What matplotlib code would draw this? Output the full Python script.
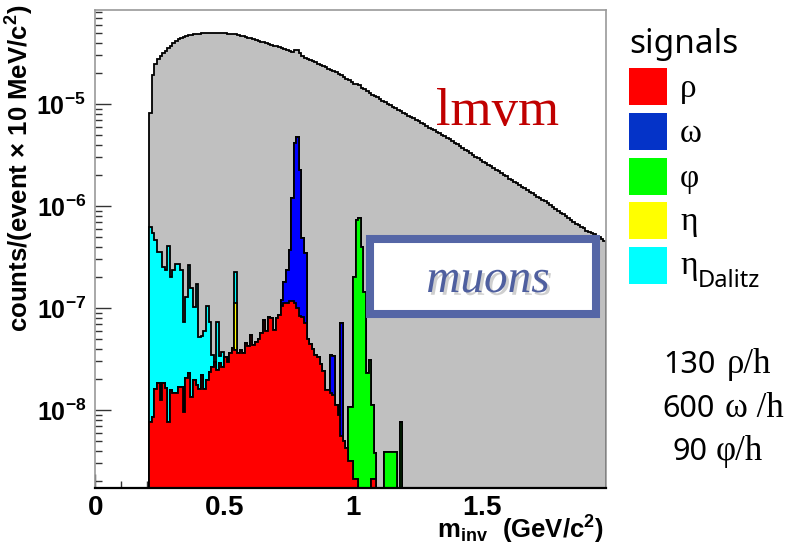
import numpy as np
import matplotlib
matplotlib.use("Agg")
import matplotlib.pyplot as plt
from matplotlib.patches import Rectangle
from matplotlib.ticker import FixedLocator, FixedFormatter, NullFormatter, LogLocator, MultipleLocator
import matplotlib.patheffects as pe

plt.rcParams['font.family'] = ['Liberation Sans', 'DejaVu Sans']
plt.rcParams['font.weight'] = 'bold'

# ---------------- data ----------------
bin_width = 0.01          # GeV/c^2
m_start = 0.21            # first bin lower edge

# total lmvm spectrum (units 1e-6), bins 0.21 ... 1.97
lmvm_total = [
    8.13, 19.1, 24.5, 27.5, 29.5, 31.6, 33.1, 35.5, 37.2, 39.8,
    41.7, 43.2, 44.4, 45.4, 46.2, 47.1, 47.9, 48.3, 48.6, 49.0,
    49.3, 49.5, 49.8, 50.0, 50.1, 50.1, 50.1, 49.9, 49.5, 49.3,
    49.1, 48.8, 48.4, 48.1, 47.5, 46.9, 46.2, 45.6, 44.8, 44.1,
    43.3, 42.5, 41.7, 40.9, 40.2, 39.5, 38.9, 38.2, 37.5, 36.9,
    36.3, 35.1, 34.7, 33.9, 33.1, 32.7, 33.9, 33.9, 31.6, 29.5,
    28.5, 27.5, 26.9, 26.3, 25.7, 24.8, 24.3, 23.4, 22.9, 22.3,
    21.6, 21.0, 20.4, 19.9, 19.3, 18.5, 17.8, 17.1, 16.4, 15.8,
    15.8, 15.5, 14.5, 13.9, 13.4, 12.9, 12.4, 12.0, 11.6, 11.2,
    10.8, 10.5, 10.1, 9.77, 9.44, 9.12, 8.81, 8.51, 8.22, 7.94,
    7.67, 7.41, 7.24, 7.00, 6.76, 6.53, 6.31, 6.10, 5.89, 5.75,
    5.56, 5.37, 5.19, 5.01, 4.84, 4.68, 4.52, 4.37, 4.17, 4.03,
    3.89, 3.72, 3.57, 3.44, 3.31, 3.16, 3.05, 2.94, 2.82, 2.72,
    2.63, 2.54, 2.45, 2.34, 2.26, 2.19, 2.09, 2.02, 1.95, 1.86,
    1.80, 1.74, 1.68, 1.62, 1.55, 1.50, 1.45, 1.38, 1.33, 1.29,
    1.23, 1.19, 1.15, 1.11, 1.07, 1.02, 0.977, 0.944, 0.902, 0.861,
    0.832, 0.794, 0.759, 0.733, 0.700, 0.668, 0.646, 0.617, 0.603, 0.575,
    0.562, 0.543, 0.531, 0.513, 0.495, 0.479, 0.457,
]

# rho signal (units 1e-8), bins 0.21 ... 1.19
rho = [
    0.76, 0.85, 1.60, 1.86, 1.26, 1.86, 1.66, 0.76, 1.58, 1.48,
    1.48, 1.70, 1.70, 0.95, 2.04, 2.29, 1.35, 1.95, 1.74, 1.62,
    2.19, 1.62, 1.95, 2.34, 2.63, 2.95, 2.45, 2.88, 2.63, 3.31,
    2.95, 3.63, 4.07, 3.89, 3.63, 3.89, 3.63, 4.57, 4.27, 5.50,
    4.37, 4.68, 5.01, 5.75, 7.59, 5.89, 8.13, 7.94, 6.03, 7.94,
    8.51, 10.5, 11.2, 11.2, 11.7, 11.7, 11.2, 10.0, 8.32, 8.13,
    7.08, 5.01, 4.47, 3.98, 3.47, 3.31, 2.82, 2.40, 1.58, 1.58,
    1.48, 1.41, 1.12, 0.89, 0.56, 0.50, 0.42, 0.32, 0.32, 0.21,
    0.21, 0, 0, 0, 0, 0, 0.21, 0.21, 0, 0,
    0, 0, 0, 0, 0, 0, 0, 0, 0,
]

# eta Dalitz signal (units 1e-8), bins from 0.21 onward (rest zero)
eta_dalitz = [
    61, 53, 45, 33.6, 34.2, 23.2, 21.7, 40, 18.4, 21.9,
    25.4, 25.2, 21.7, 6.3, 10.9, 24, 14.5, 8.3, 15.3, 3.6,
    3.1, 4.4, 8.5, 4.9, 0.8, 0, 4.8, 0.5, 1.1, 0,
    0, 0, 0, 11.2,
]

# sparse signals: bin lower edge (GeV/c^2) and value (units 1e-8)
omega_m = [0.72, 0.73, 0.74, 0.75, 0.76, 0.77, 0.78, 0.79, 0.80, 0.81, 0.91, 0.92, 0.95]
omega_val = [1.5, 6.6, 12.2, 25.5, 108, 406, 469, 216, 41, 27.6, 2.0, 2.0, 6.5]

phi_m = [0.98, 0.99, 1.00, 1.01, 1.02, 1.03, 1.04, 1.05, 1.06, 1.07, 1.08,
         1.12, 1.13, 1.14, 1.15, 1.16, 1.18]
phi_val = [0.75, 0.75, 19.8, 72, 76, 40, 14.5, 2.3, 3.1, 0.91, 0.17,
           0.39, 0.39, 0.39, 0.39, 0.39, 0.76]

eta_m = [0.54]
eta_val = [7.3]

legend_labels = ['ρ', 'ω', 'φ', 'η', 'η']
legend_colors = ['#ff0000', '#0433c8', '#00ff00', '#ffff00', '#00ffff']
hist_colors = ['#ff0000', '#0000ff', '#00ff00', '#ffff00', '#00ffff']
rates = [('130', 'ρ/h'), ('600', 'ω /h'), ('90', 'φ/h')]

x_ticks = [0, 0.5, 1, 1.5]
x_ticklabels = [r'$\mathdefault{0}$', r'$\mathdefault{0.5}$',
                r'$\mathdefault{1}$', r'$\mathdefault{1.5}$']
y_ticks = [1e-8, 1e-7, 1e-6, 1e-5]
y_ticklabels = [r'$\mathdefault{10^{-8}}$', r'$\mathdefault{10^{-7}}$',
                r'$\mathdefault{10^{-6}}$', r'$\mathdefault{10^{-5}}$']

# ---------------- build histograms ----------------
n_sig = len(rho)
edges_sig = m_start + bin_width * np.arange(n_sig + 1)
edges_tot = m_start + bin_width * np.arange(len(lmvm_total) + 1)


def full(ms, vals):
    arr = np.zeros(n_sig)
    for m, v in zip(ms, vals):
        arr[int(round((m - m_start) / bin_width))] = v
    return arr


etad_full = np.zeros(n_sig)
etad_full[:len(eta_dalitz)] = eta_dalitz
components = np.array([
    np.array(rho, dtype=float),
    full(omega_m, omega_val),
    full(phi_m, phi_val),
    full(eta_m, eta_val),
    etad_full,
]) * 1e-8
cum = np.cumsum(components, axis=0)

floor = 1e-13

# ---------------- figure ----------------
W, H = 800, 545
fig = plt.figure(figsize=(W / 100, H / 100), dpi=100)
ax = fig.add_axes([95 / W, (H - 488) / H, 511 / W, 478 / H])


def fx(x):
    return x / W


def fy(y):
    return 1 - y / H


ax.set_yscale('log')
ax.set_xlim(0, 1.98)
ax.set_ylim(1.72e-9, 8.36e-5)

tot = np.array(lmvm_total) * 1e-6
ax.stairs(tot, edges_tot, baseline=floor, fill=True, color='#c0c0c0', lw=0)
ax.stairs(tot, edges_tot, baseline=floor, fill=False, color='black', lw=1.3)

for k in range(4, -1, -1):
    vals = np.where(cum[k] > 0, cum[k], floor)
    ax.stairs(vals, edges_sig, baseline=floor, fill=True, color=hist_colors[k], lw=0)
    ax.stairs(vals, edges_sig, baseline=floor, fill=False, color='black', lw=1.3)

ax.set_axisbelow(True)

ax.yaxis.set_major_locator(FixedLocator(y_ticks))
ax.yaxis.set_major_formatter(FixedFormatter(y_ticklabels))
ax.yaxis.set_minor_locator(LogLocator(base=10, subs=np.arange(2, 10)))
ax.yaxis.set_minor_formatter(NullFormatter())
ax.xaxis.set_major_locator(FixedLocator(x_ticks))
ax.xaxis.set_major_formatter(FixedFormatter(x_ticklabels))
ax.xaxis.set_minor_locator(MultipleLocator(0.1))

ax.tick_params(axis='y', which='major', direction='in', length=11.5, width=1.0,
               pad=6.5, labelsize=18, color='#333333', right=False)
ax.tick_params(axis='y', which='minor', direction='in', length=5, width=1.0,
               color='#333333', right=False)
ax.tick_params(axis='x', which='major', direction='in', length=10, width=1.0,
               pad=5, labelsize=20, color='#333333', top=False)
ax.tick_params(axis='x', which='minor', direction='in', length=5, width=1.0,
               color='#333333', top=False)
for lab in ax.get_xticklabels() + ax.get_yticklabels():
    lab.set_fontweight('bold')

for side in ['left', 'top', 'right']:
    ax.spines[side].set_color('#9a9a9a')
    ax.spines[side].set_linewidth(1.2)
ax.spines['bottom'].set_color('black')
ax.spines['bottom'].set_linewidth(1.6)

# axis titles
fig.text(fx(19), fy(5), 'counts/(event × 10 MeV/c$^{\\mathdefault{2}}$)', rotation=90,
         ha='center', va='top', fontsize=18.5, fontweight='bold')
fig.text(fx(437), fy(538), r'$\mathdefault{m_{inv}}$',
         ha='left', va='baseline', fontsize=18.5, fontweight='bold')
fig.text(fx(604), fy(538), r'(GeV/c$^{\mathdefault{2}}$)',
         ha='right', va='baseline', fontsize=18.5, fontweight='bold')

# lmvm label
fig.text(fx(436), fy(125), 'lmvm', family='Liberation Serif', fontweight='normal',
         fontsize=38, color='#c00000', ha='left', va='baseline')

# muons box
box = Rectangle((fx(370), fy(314)), fx(596) - fx(370), fy(239) - fy(314),
                transform=fig.transFigure, facecolor='white', edgecolor='#5566a6',
                linewidth=5.8, zorder=5)
fig.add_artist(box)
fig.text(fx(488), fy(292), 'muons', family='Liberation Serif', style='italic',
         fontweight='normal', fontsize=34, color='#4f5f9f', ha='center', va='baseline',
         zorder=6,
         path_effects=[pe.withSimplePatchShadow(offset=(2, -2), shadow_rgbFace='#888888',
                                                alpha=0.4)])

# legend
fig.text(fx(629), fy(53), 'signals', family='Noto Sans', fontweight='normal',
         fontsize=24, ha='left', va='baseline')
box_tops = [68, 113, 158, 202, 247]
baselines = [97, 142, 187, 230, 274]
for i in range(5):
    r = Rectangle((fx(629), fy(box_tops[i] + 37)), fx(667) - fx(629), fy(box_tops[i]) - fy(box_tops[i] + 37),
                  transform=fig.transFigure, facecolor=legend_colors[i], edgecolor='none')
    fig.add_artist(r)
    fig.text(fx(680), fy(baselines[i]), legend_labels[i], family='Liberation Serif',
             fontweight='normal', fontsize=24, ha='left', va='baseline')
fig.text(fx(698), fy(287), 'Dalitz', family='Noto Sans', fontweight='normal',
         fontsize=17, ha='left', va='baseline')

# rates
rate_num_x = [663, 662, 672]
rate_sym_x = [727, 725, 716]
rate_base = [373, 417, 460]
for i, (num, sym) in enumerate(rates):
    fig.text(fx(rate_num_x[i]), fy(rate_base[i]), num, family='Noto Sans',
             fontweight='normal', fontsize=22, ha='left', va='baseline')
    fig.text(fx(rate_sym_x[i]), fy(rate_base[i]), sym, family='Liberation Serif',
             fontweight='normal', fontsize=25, ha='left', va='baseline')

fig.savefig('out.png', dpi=100)
